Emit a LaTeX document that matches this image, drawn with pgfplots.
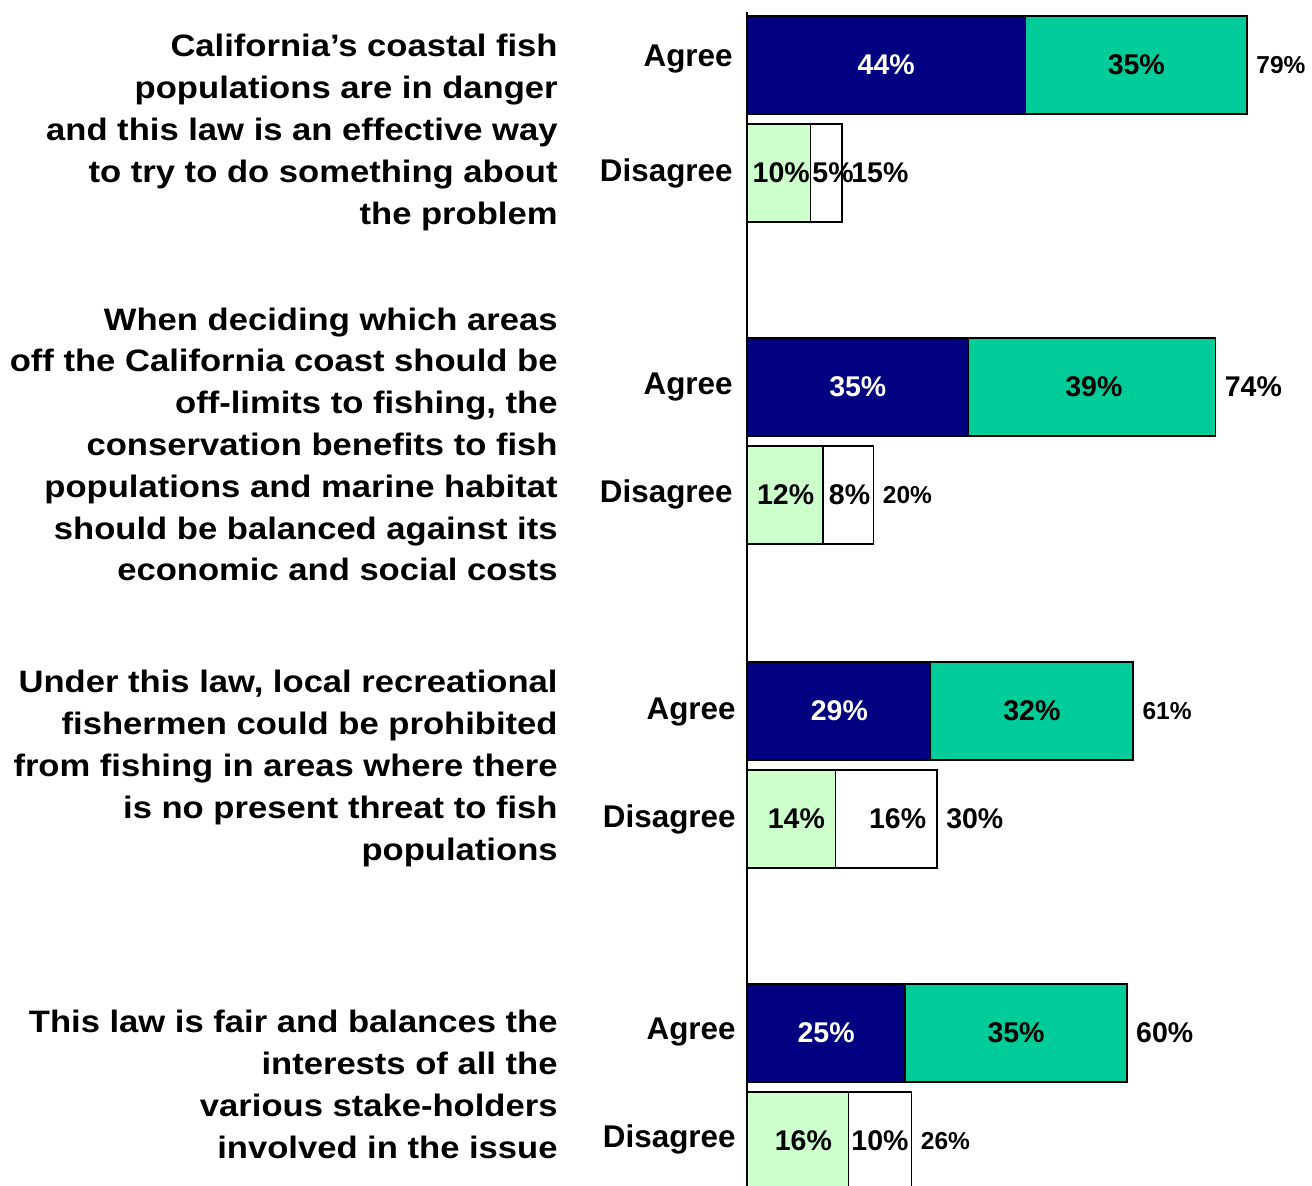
\documentclass[border=0pt]{standalone}
\usepackage{fontspec}
\setmainfont{Liberation Sans}
\newfontfamily\qfont{Liberation Sans}[FakeStretch=1.116]
\usepackage{pgfplots}
\pgfplotsset{compat=1.18}
\definecolor{navy}{RGB}{0,0,128}
\definecolor{seagreen}{RGB}{0,204,153}
\definecolor{mint}{RGB}{204,255,204}

\begin{document}
\begin{tikzpicture}[
  q/.style={anchor=base east, align=right, inner sep=0pt, xshift=-94.5pt,
    font=\qfont\bfseries\fontsize{15.5}{20.9}\selectfont},
  cat/.style={anchor=base east, inner sep=0pt, font=\bfseries\fontsize{15.7}{18}\selectfont},
  val/.style={inner sep=0pt, font=\bfseries\fontsize{14.25}{16}\selectfont},
  tot/.style={anchor=west, inner sep=0pt, xshift=4.5pt, font=\bfseries\fontsize{14.25}{16}\selectfont},
  tots/.style={anchor=west, inner sep=0pt, xshift=4.5pt, font=\bfseries\fontsize{12.25}{14}\selectfont},
]
\begin{axis}[
  set layers,
  scale only axis,
  width=656pt, height=593pt,
  xmin=-118.01, xmax=89.26,
  ymin=-1186, ymax=0,
  hide axis,
  xbar stacked,
  bar width=98,
  every axis plot/.append style={draw=black, line width=0.75pt, on layer=axis background},
]
% y = minus the pixel row of each bar's centre
\addplot[fill=navy] coordinates {(44,-65) (0,-173) (35,-387) (0,-495) (29,-711) (0,-819) (25,-1033) (0,-1141)};
\addplot[fill=seagreen] coordinates {(35,-65) (0,-173) (39,-387) (0,-495) (32,-711) (0,-819) (35,-1033) (0,-1141)};
\addplot[fill=mint] coordinates {(0,-65) (10,-173) (0,-387) (12,-495) (0,-711) (14,-819) (0,-1033) (16,-1141)};
\addplot[fill=white] coordinates {(0,-65) (5,-173) (0,-387) (8,-495) (0,-711) (16,-819) (0,-1033) (10,-1141)};

\path (rel axis cs:0,0) rectangle (rel axis cs:1,1);
\draw[line width=1pt] (axis cs:0,-12) -- (axis cs:0,-1186);

% questions (anchored at the baseline of their last line)
\node[q] at (axis cs:0,-224.2) {California’s coastal fish\\populations are in danger\\and this law is an effective way\\to try to do something about\\the problem};
\node[q] at (axis cs:0,-581) {When deciding which areas\\off the California coast should be\\off-limits to fishing, the\\conservation benefits to fish\\populations and marine habitat\\should be balanced against its\\economic and social costs};
\node[q] at (axis cs:0,-860.2) {Under this law, local recreational\\fishermen could be prohibited\\from fishing in areas where there\\is no present threat to fish\\populations};
\node[q] at (axis cs:0,-1158.4) {This law is fair and balances the\\interests of all the\\various stake-holders\\involved in the issue};

% categories
\node[cat, xshift=-7pt] at (axis cs:0,-67) {Agree};
\node[cat, xshift=-7pt] at (axis cs:0,-182) {Disagree};
\node[cat, xshift=-7pt] at (axis cs:0,-395) {Agree};
\node[cat, xshift=-7pt] at (axis cs:0,-503) {Disagree};
\node[cat, xshift=-5.5pt] at (axis cs:0,-720) {Agree};
\node[cat, xshift=-5.5pt] at (axis cs:0,-828) {Disagree};
\node[cat, xshift=-5.5pt] at (axis cs:0,-1040) {Agree};
\node[cat, xshift=-5.5pt] at (axis cs:0,-1148) {Disagree};

% segment values
\node[val, text=white] at (axis cs:22,-65) {44\%};
\node[val] at (axis cs:61.5,-65) {35\%};
\node[val] at (axis cs:5.4,-173) {10\%};
\node[val] at (axis cs:13.6,-173) {5\%};
\node[val, text=white] at (axis cs:17.5,-387) {35\%};
\node[val] at (axis cs:54.8,-387) {39\%};
\node[val] at (axis cs:6.1,-495) {12\%};
\node[val] at (axis cs:16.2,-495) {8\%};
\node[val, text=white] at (axis cs:14.6,-711) {29\%};
\node[val] at (axis cs:45,-711) {32\%};
\node[val] at (axis cs:7.8,-819) {14\%};
\node[val] at (axis cs:23.8,-819) {16\%};
\node[val, text=white] at (axis cs:12.5,-1033) {25\%};
\node[val] at (axis cs:42.5,-1033) {35\%};
\node[val] at (axis cs:8.9,-1141) {16\%};
\node[val] at (axis cs:21,-1141) {10\%};

% totals
\node[tots] at (axis cs:79,-65) {79\%};
\node[tot] at (axis cs:15,-173) {15\%};
\node[tot] at (axis cs:74,-387) {74\%};
\node[tots] at (axis cs:20,-495) {20\%};
\node[tots] at (axis cs:61,-711) {61\%};
\node[tot] at (axis cs:30,-819) {30\%};
\node[tot] at (axis cs:60,-1033) {60\%};
\node[tots] at (axis cs:26,-1141) {26\%};
\end{axis}
\end{tikzpicture}
\end{document}
